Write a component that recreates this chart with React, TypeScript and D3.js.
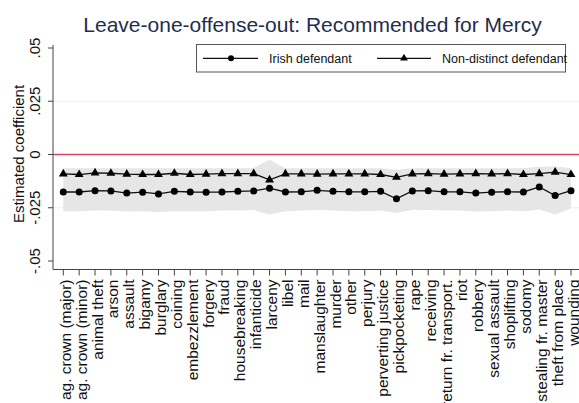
import React from "react";
import * as d3 from "d3";

const categories = [
  "ag. crown (major)", "ag. crown (minor)", "animal theft", "arson", "assault",
  "bigamy", "burglary", "coining", "embezzlement", "forgery", "fraud",
  "housebreaking", "infanticide", "larceny", "libel", "mail", "manslaughter",
  "murder", "other", "perjury", "perverting justice", "pickpocketing", "rape",
  "receiving", "return fr. transport.", "riot", "robbery", "sexual assault",
  "shoplifting", "sodomy", "stealing fr. master", "theft from place", "wounding",
];

const irish = [
  -0.0176, -0.0176, -0.0170, -0.0171, -0.0181, -0.0177, -0.0185, -0.0173, -0.0176,
  -0.0177, -0.0176, -0.0173, -0.0171, -0.0158, -0.0176, -0.0175, -0.0168, -0.0173,
  -0.0175, -0.0175, -0.0173, -0.0208, -0.0171, -0.0170, -0.0175, -0.0175, -0.0181,
  -0.0177, -0.0175, -0.0176, -0.0152, -0.0193, -0.0170,
];

const nonDistinct = [
  -0.0091, -0.0094, -0.0086, -0.0088, -0.0092, -0.0094, -0.0094, -0.0088, -0.0094,
  -0.0092, -0.0090, -0.0090, -0.0090, -0.0119, -0.0091, -0.0091, -0.0092, -0.0091,
  -0.0091, -0.0091, -0.0094, -0.0107, -0.0091, -0.0090, -0.0092, -0.0091, -0.0090,
  -0.0091, -0.0090, -0.0094, -0.0090, -0.0083, -0.0094,
];

const bandUpper = [
  -0.0065, -0.0065, -0.0065, -0.0065, -0.0065, -0.0065, -0.0065, -0.0065, -0.0065,
  -0.0065, -0.0065, -0.0065, -0.0063, -0.0025, -0.0064, -0.0065, -0.0065, -0.0065,
  -0.0065, -0.0065, -0.0065, -0.0072, -0.0065, -0.0065, -0.0065, -0.0065, -0.0065,
  -0.0065, -0.0065, -0.0065, -0.0058, -0.0056, -0.0065,
];

const bandLower = [
  -0.0266, -0.0266, -0.0263, -0.0263, -0.0268, -0.0266, -0.0270, -0.0266, -0.0266,
  -0.0266, -0.0263, -0.0263, -0.0261, -0.0282, -0.0266, -0.0263, -0.0261, -0.0263,
  -0.0266, -0.0266, -0.0263, -0.0275, -0.0261, -0.0261, -0.0263, -0.0263, -0.0268,
  -0.0266, -0.0263, -0.0266, -0.0258, -0.0282, -0.0254,
];

const yTicks = [0.05, 0.025, 0, -0.025, -0.05];
const yTickLabels = [".05", ".025", "0", "-.025", "-.05"];
const gridValues = [0.025, -0.025];

const title = "Leave-one-offense-out: Recommended for Mercy";
const yTitle = "Estimated coefficient";
const legendLabels = ["Irish defendant", "Non-distinct defendant"];

const W = 579;
const H = 403;
const FONT = "'Liberation Sans', Arial, Helvetica, sans-serif";

export default function App() {
  const x = d3.scalePoint<string>().domain(categories).range([63.3, 571]);
  const y = d3.scaleLinear().domain([-0.05, 0.05]).range([261, 48]);
  const axisLeft = 53;
  const axisTop = 45;
  const axisBottom = 269.5;
  const plotRight = 579;

  const idx = categories.map((_, i) => i);
  const area = d3
    .area<number>()
    .x((i) => x(categories[i]) as number)
    .y0((i) => y(bandLower[i]))
    .y1((i) => y(bandUpper[i]));
  const lineIrish = d3
    .line<number>()
    .x((i) => x(categories[i]) as number)
    .y((i) => y(irish[i]));
  const lineNon = d3
    .line<number>()
    .x((i) => x(categories[i]) as number)
    .y((i) => y(nonDistinct[i]));
  const tri = d3.symbol().type(d3.symbolTriangle).size(34)() as string;
  const triLegend = d3.symbol().type(d3.symbolTriangle).size(26)() as string;

  return (
    <svg
      width={W}
      height={H}
      style={{ position: "absolute", left: 0, top: 0, background: "#fff" }}
      fontFamily={FONT}
    >
      <rect x={0} y={0} width={W} height={H} fill="#fff" />
      {/* title */}
      <text x={312.5} y={31.5} textAnchor="middle" fontSize={21} fill="#1f2d4e">
        {title}
      </text>
      {/* grid */}
      {gridValues.map((g) => (
        <line key={g} x1={axisLeft} x2={plotRight} y1={y(g)} y2={y(g)} stroke="#eaf1f2" strokeWidth={1} />
      ))}
      {/* band */}
      <path d={area(idx) as string} fill="#e6e6e6" />
      {/* zero line */}
      <line x1={axisLeft} x2={plotRight} y1={y(0)} y2={y(0)} stroke="#d9475e" strokeWidth={1.5} />
      {/* series lines */}
      <path d={lineNon(idx) as string} fill="none" stroke="#111" strokeWidth={1.3} />
      <path d={lineIrish(idx) as string} fill="none" stroke="#111" strokeWidth={1.3} />
      {idx.map((i) => (
        <path key={"t" + i} d={tri} transform={`translate(${x(categories[i])},${y(nonDistinct[i])})`} fill="#000" />
      ))}
      {idx.map((i) => (
        <circle key={"c" + i} cx={x(categories[i])} cy={y(irish[i])} r={3.5} fill="#000" />
      ))}
      {/* y axis */}
      <line x1={axisLeft} x2={axisLeft} y1={axisTop} y2={axisBottom} stroke="#444" strokeWidth={1} />
      {yTicks.map((t, i) => (
        <g key={t}>
          <line x1={axisLeft - 5} x2={axisLeft} y1={y(t)} y2={y(t)} stroke="#444" strokeWidth={1} />
          <text
            transform={`translate(${40},${y(t)}) rotate(-90)`}
            textAnchor="middle"
            fontSize={15}
            fill="#111"
          >
            {yTickLabels[i]}
          </text>
        </g>
      ))}
      <text transform={`translate(${23.5},${154}) rotate(-90)`} textAnchor="middle" fontSize={15} fill="#111">
        {yTitle}
      </text>
      {/* x axis */}
      <line x1={axisLeft} x2={plotRight} y1={axisBottom} y2={axisBottom} stroke="#444" strokeWidth={1} />
      {categories.map((c) => (
        <g key={c}>
          <line x1={x(c)} x2={x(c)} y1={axisBottom} y2={axisBottom + 6} stroke="#444" strokeWidth={1} />
          <text
            transform={`translate(${(x(c) as number) + 7.5},${axisBottom + 10}) rotate(-90)`}
            textAnchor="end"
            fontSize={15.5}
            fill="#111"
          >
            {c}
          </text>
        </g>
      ))}
      {/* legend */}
      <rect x={196.5} y={44.5} width={369} height={27.5} fill="#fff" stroke="#555" strokeWidth={1} />
      <line x1={203} x2={258} y1={58.3} y2={58.3} stroke="#111" strokeWidth={1.3} />
      <circle cx={231} cy={58.3} r={3} fill="#000" />
      <text x={269} y={62.5} fontSize={12.5} fill="#111">
        {legendLabels[0]}
      </text>
      <line x1={377} x2={431} y1={58.3} y2={58.3} stroke="#111" strokeWidth={1.3} />
      <path d={triLegend} transform="translate(404,58.3)" fill="#000" />
      <text x={442} y={62.5} fontSize={12.5} fill="#111">
        {legendLabels[1]}
      </text>
    </svg>
  );
}
